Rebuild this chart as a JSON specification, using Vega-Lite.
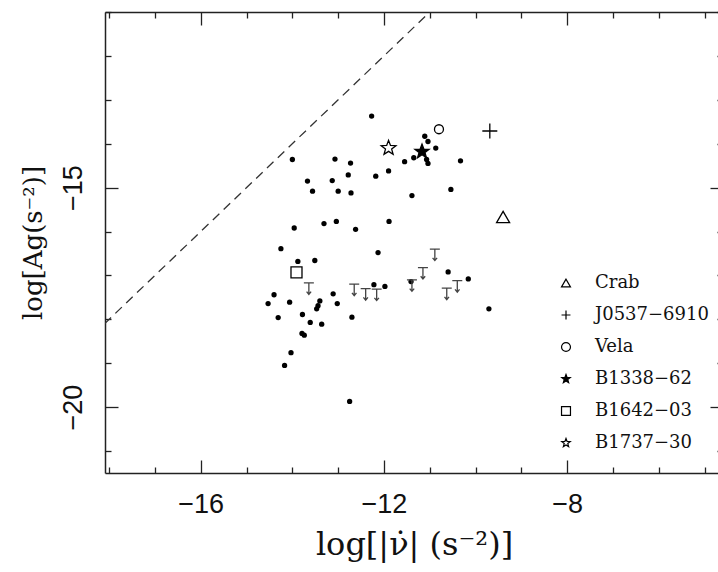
{
  "$schema": "https://vega.github.io/schema/vega-lite/v6.json",
  "width": 618,
  "height": 461,
  "autosize": "none",
  "padding": {"left": 105, "top": 12, "right": 0, "bottom": 99},
  "background": "white",
  "config": {
    "view": {"stroke": null},
    "axis": {
      "grid": false,
      "domainColor": "#222",
      "domainWidth": 1.5,
      "tickColor": "#222",
      "tickWidth": 1.3,
      "labelColor": "#111",
      "labelFont": "Liberation Sans",
      "labelFontSize": 27,
      "titleFont": "DejaVu Serif",
      "titleFontSize": 27,
      "titleFontWeight": "normal",
      "titleColor": "#111"
    },
    "legend": {
      "labelFont": "DejaVu Serif",
      "labelFontSize": 18,
      "labelColor": "#111"
    }
  },
  "datasets": {
    "diagonal": [
      {"lognudot": -18.1, "logAg": -18.1},
      {"lognudot": -11.0, "logAg": -11.0}
    ],
    "pulsars": [
      {"lognudot": -12.27, "logAg": -13.37},
      {"lognudot": -14.00, "logAg": -14.36},
      {"lognudot": -13.07, "logAg": -14.35},
      {"lognudot": -12.73, "logAg": -14.44},
      {"lognudot": -12.78, "logAg": -14.71},
      {"lognudot": -12.18, "logAg": -14.74},
      {"lognudot": -13.67, "logAg": -14.85},
      {"lognudot": -13.13, "logAg": -14.84},
      {"lognudot": -13.56, "logAg": -15.08},
      {"lognudot": -13.00, "logAg": -15.08},
      {"lognudot": -12.72, "logAg": -15.12},
      {"lognudot": -13.96, "logAg": -15.92},
      {"lognudot": -13.31, "logAg": -15.82},
      {"lognudot": -13.04, "logAg": -15.77},
      {"lognudot": -12.62, "logAg": -15.95},
      {"lognudot": -11.11, "logAg": -13.83},
      {"lognudot": -11.04, "logAg": -13.95},
      {"lognudot": -10.87, "logAg": -14.10},
      {"lognudot": -11.35, "logAg": -14.32},
      {"lognudot": -11.55, "logAg": -14.41},
      {"lognudot": -11.07, "logAg": -14.36},
      {"lognudot": -11.04, "logAg": -14.45},
      {"lognudot": -10.33, "logAg": -14.39},
      {"lognudot": -11.90, "logAg": -14.62},
      {"lognudot": -10.54, "logAg": -15.04},
      {"lognudot": -11.39, "logAg": -15.18},
      {"lognudot": -11.89, "logAg": -15.77},
      {"lognudot": -14.25, "logAg": -16.39},
      {"lognudot": -12.13, "logAg": -16.48},
      {"lognudot": -13.88, "logAg": -16.68},
      {"lognudot": -13.51, "logAg": -16.66},
      {"lognudot": -14.40, "logAg": -17.44},
      {"lognudot": -14.53, "logAg": -17.64},
      {"lognudot": -14.06, "logAg": -17.61},
      {"lognudot": -13.40, "logAg": -17.58},
      {"lognudot": -13.44, "logAg": -17.69},
      {"lognudot": -13.47, "logAg": -17.76},
      {"lognudot": -13.11, "logAg": -17.42},
      {"lognudot": -13.02, "logAg": -17.64},
      {"lognudot": -14.31, "logAg": -17.96},
      {"lognudot": -13.78, "logAg": -17.89},
      {"lognudot": -13.61, "logAg": -18.07},
      {"lognudot": -13.36, "logAg": -18.11},
      {"lognudot": -12.70, "logAg": -17.95},
      {"lognudot": -13.79, "logAg": -18.32},
      {"lognudot": -13.74, "logAg": -18.36},
      {"lognudot": -14.03, "logAg": -18.76},
      {"lognudot": -14.17, "logAg": -19.05},
      {"lognudot": -12.75, "logAg": -19.87},
      {"lognudot": -12.22, "logAg": -17.21},
      {"lognudot": -11.98, "logAg": -17.25},
      {"lognudot": -11.41, "logAg": -17.14},
      {"lognudot": -10.60, "logAg": -16.92},
      {"lognudot": -10.16, "logAg": -17.08},
      {"lognudot": -9.71, "logAg": -17.76}
    ],
    "upperLimits": [
      {"lognudot": -13.64, "logAg": -17.17},
      {"lognudot": -12.65, "logAg": -17.20},
      {"lognudot": -12.40, "logAg": -17.30},
      {"lognudot": -12.16, "logAg": -17.31},
      {"lognudot": -11.39, "logAg": -17.10},
      {"lognudot": -11.15, "logAg": -16.82},
      {"lognudot": -10.89, "logAg": -16.40},
      {"lognudot": -10.63, "logAg": -17.29},
      {"lognudot": -10.40, "logAg": -17.12}
    ],
    "named": [
      {"name": "Crab", "lognudot": -9.40, "logAg": -15.67},
      {"name": "J0537−6910", "lognudot": -9.69, "logAg": -13.71},
      {"name": "Vela", "lognudot": -10.80, "logAg": -13.67},
      {"name": "B1338−62", "lognudot": -11.17, "logAg": -14.18},
      {"name": "B1642−03", "lognudot": -13.91, "logAg": -16.93},
      {"name": "B1737−30", "lognudot": -11.90, "logAg": -14.10}
    ]
  },
  "resolve": {"axis": {"x": "independent", "y": "independent"}},
  "layer": [
    {
      "data": {"name": "diagonal"},
      "mark": {"type": "line", "clip": true, "color": "#333", "strokeWidth": 1.3, "strokeDash": [9, 6]},
      "encoding": {
        "x": {
          "field": "lognudot", "type": "quantitative",
          "scale": {"domain": [-18.09, -4.6], "nice": false, "zero": false},
          "axis": {
            "orient": "bottom",
            "values": [-18, -17, -16, -15, -14, -13, -12, -11, -10, -9, -8, -7, -6, -5],
            "tickSize": {"condition": {"test": "datum.value % 4 === 0", "value": -13}, "value": -6},
            "labelExpr": "datum.value % 4 === 0 ? '−' + abs(datum.value) : ''",
            "labelPadding": 31,
            "labelFlush": false,
            "labelOverlap": false,
            "title": "log[|ν̇|  (s⁻²)]",
            "titleFontSize": 32,
            "titlePadding": 5
          }
        },
        "y": {
          "field": "logAg", "type": "quantitative",
          "scale": {"domain": [-21.5, -11], "nice": false, "zero": false},
          "axis": {
            "orient": "left",
            "values": [-21, -20, -19, -18, -17, -16, -15, -14, -13, -12, -11],
            "tickSize": {"condition": {"test": "datum.value % 5 === 0", "value": -13}, "value": -6},
            "labelExpr": "datum.value % 5 === 0 ? '−' + abs(datum.value) : ''",
            "labelAngle": -90,
            "labelAlign": "center",
            "labelBaseline": "bottom",
            "labelPadding": 31,
            "labelFlush": false,
            "labelOverlap": false,
            "title": "log[Ag(s⁻²)]",
            "titleFontSize": 26,
            "titlePadding": 6
          }
        }
      }
    },
    {
      "data": {"name": "pulsars"},
      "mark": {"type": "circle", "size": 28, "color": "black", "opacity": 1},
      "encoding": {
        "x": {
          "field": "lognudot", "type": "quantitative",
          "axis": {
            "orient": "top",
            "values": [-18, -17, -16, -15, -14, -13, -12, -11, -10, -9, -8, -7, -6, -5],
            "tickSize": {"condition": {"test": "datum.value % 4 === 0", "value": -13}, "value": -6},
            "labels": false,
            "title": null
          }
        },
        "y": {
          "field": "logAg", "type": "quantitative",
          "axis": {
            "orient": "right",
            "values": [-21, -20, -19, -18, -17, -16, -15, -14, -13, -12, -11],
            "tickSize": {"condition": {"test": "datum.value % 5 === 0", "value": -13}, "value": -6},
            "labels": false,
            "title": null
          }
        }
      }
    },
    {
      "data": {"name": "upperLimits"},
      "mark": {
        "type": "point",
        "shape": "M-1,0L1,0M0,0L0,2.3M-0.45,1.75L0,2.3L0.45,1.75",
        "size": 100,
        "filled": false,
        "stroke": "#444",
        "strokeWidth": 1.3,
        "opacity": 1
      },
      "encoding": {
        "x": {"field": "lognudot", "type": "quantitative", "axis": null},
        "y": {"field": "logAg", "type": "quantitative", "axis": null}
      }
    },
    {
      "data": {"name": "named"},
      "mark": {"type": "point", "strokeWidth": 1.3, "opacity": 1},
      "encoding": {
        "x": {"field": "lognudot", "type": "quantitative", "axis": null},
        "y": {"field": "logAg", "type": "quantitative", "axis": null},
        "shape": {
          "field": "name", "type": "nominal",
          "scale": {
            "domain": ["Crab", "J0537−6910", "Vela", "B1338−62", "B1642−03", "B1737−30"],
            "range": [
              "triangle-up",
              "M-1,0L1,0M0,-1L0,1",
              "circle",
              "M0,-1L0.247,-0.340L0.951,-0.309L0.399,0.130L0.588,0.809L0,0.42L-0.588,0.809L-0.399,0.130L-0.951,-0.309L-0.247,-0.340Z",
              "square",
              "M0,-1L0.247,-0.340L0.951,-0.309L0.399,0.130L0.588,0.809L0,0.42L-0.588,0.809L-0.399,0.130L-0.951,-0.309L-0.247,-0.340Z"
            ]
          },
          "legend": {
            "title": null,
            "orient": "none",
            "legendX": 452,
            "legendY": 262,
            "padding": 0,
            "rowPadding": 14,
            "labelOffset": 20,
            "symbolStrokeWidth": 1.2,
            "symbolSize": 80
          }
        },
        "fill": {
          "field": "name", "type": "nominal",
          "scale": {
            "domain": ["Crab", "J0537−6910", "Vela", "B1338−62", "B1642−03", "B1737−30"],
            "range": ["transparent", "transparent", "transparent", "black", "transparent", "transparent"]
          },
          "legend": {
            "title": null,
            "orient": "none",
            "legendX": 452,
            "legendY": 262,
            "padding": 0,
            "rowPadding": 14,
            "labelOffset": 20,
            "symbolStrokeWidth": 1.2,
            "symbolSize": 80
          }
        },
        "stroke": {
          "field": "name", "type": "nominal",
          "scale": {
            "domain": ["Crab", "J0537−6910", "Vela", "B1338−62", "B1642−03", "B1737−30"],
            "range": ["black", "black", "black", "black", "black", "black"]
          },
          "legend": {
            "title": null,
            "orient": "none",
            "legendX": 452,
            "legendY": 262,
            "padding": 0,
            "rowPadding": 14,
            "labelOffset": 20,
            "symbolStrokeWidth": 1.2,
            "symbolSize": 80
          }
        },
        "size": {
          "condition": [
            {"test": "datum.name === 'Crab'", "value": 170},
            {"test": "datum.name === 'Vela'", "value": 81},
            {"test": "datum.name === 'B1642−03'", "value": 121},
            {"test": "datum.name === 'B1737−30'", "value": 240}
          ],
          "value": 225
        }
      }
    }
  ]
}
